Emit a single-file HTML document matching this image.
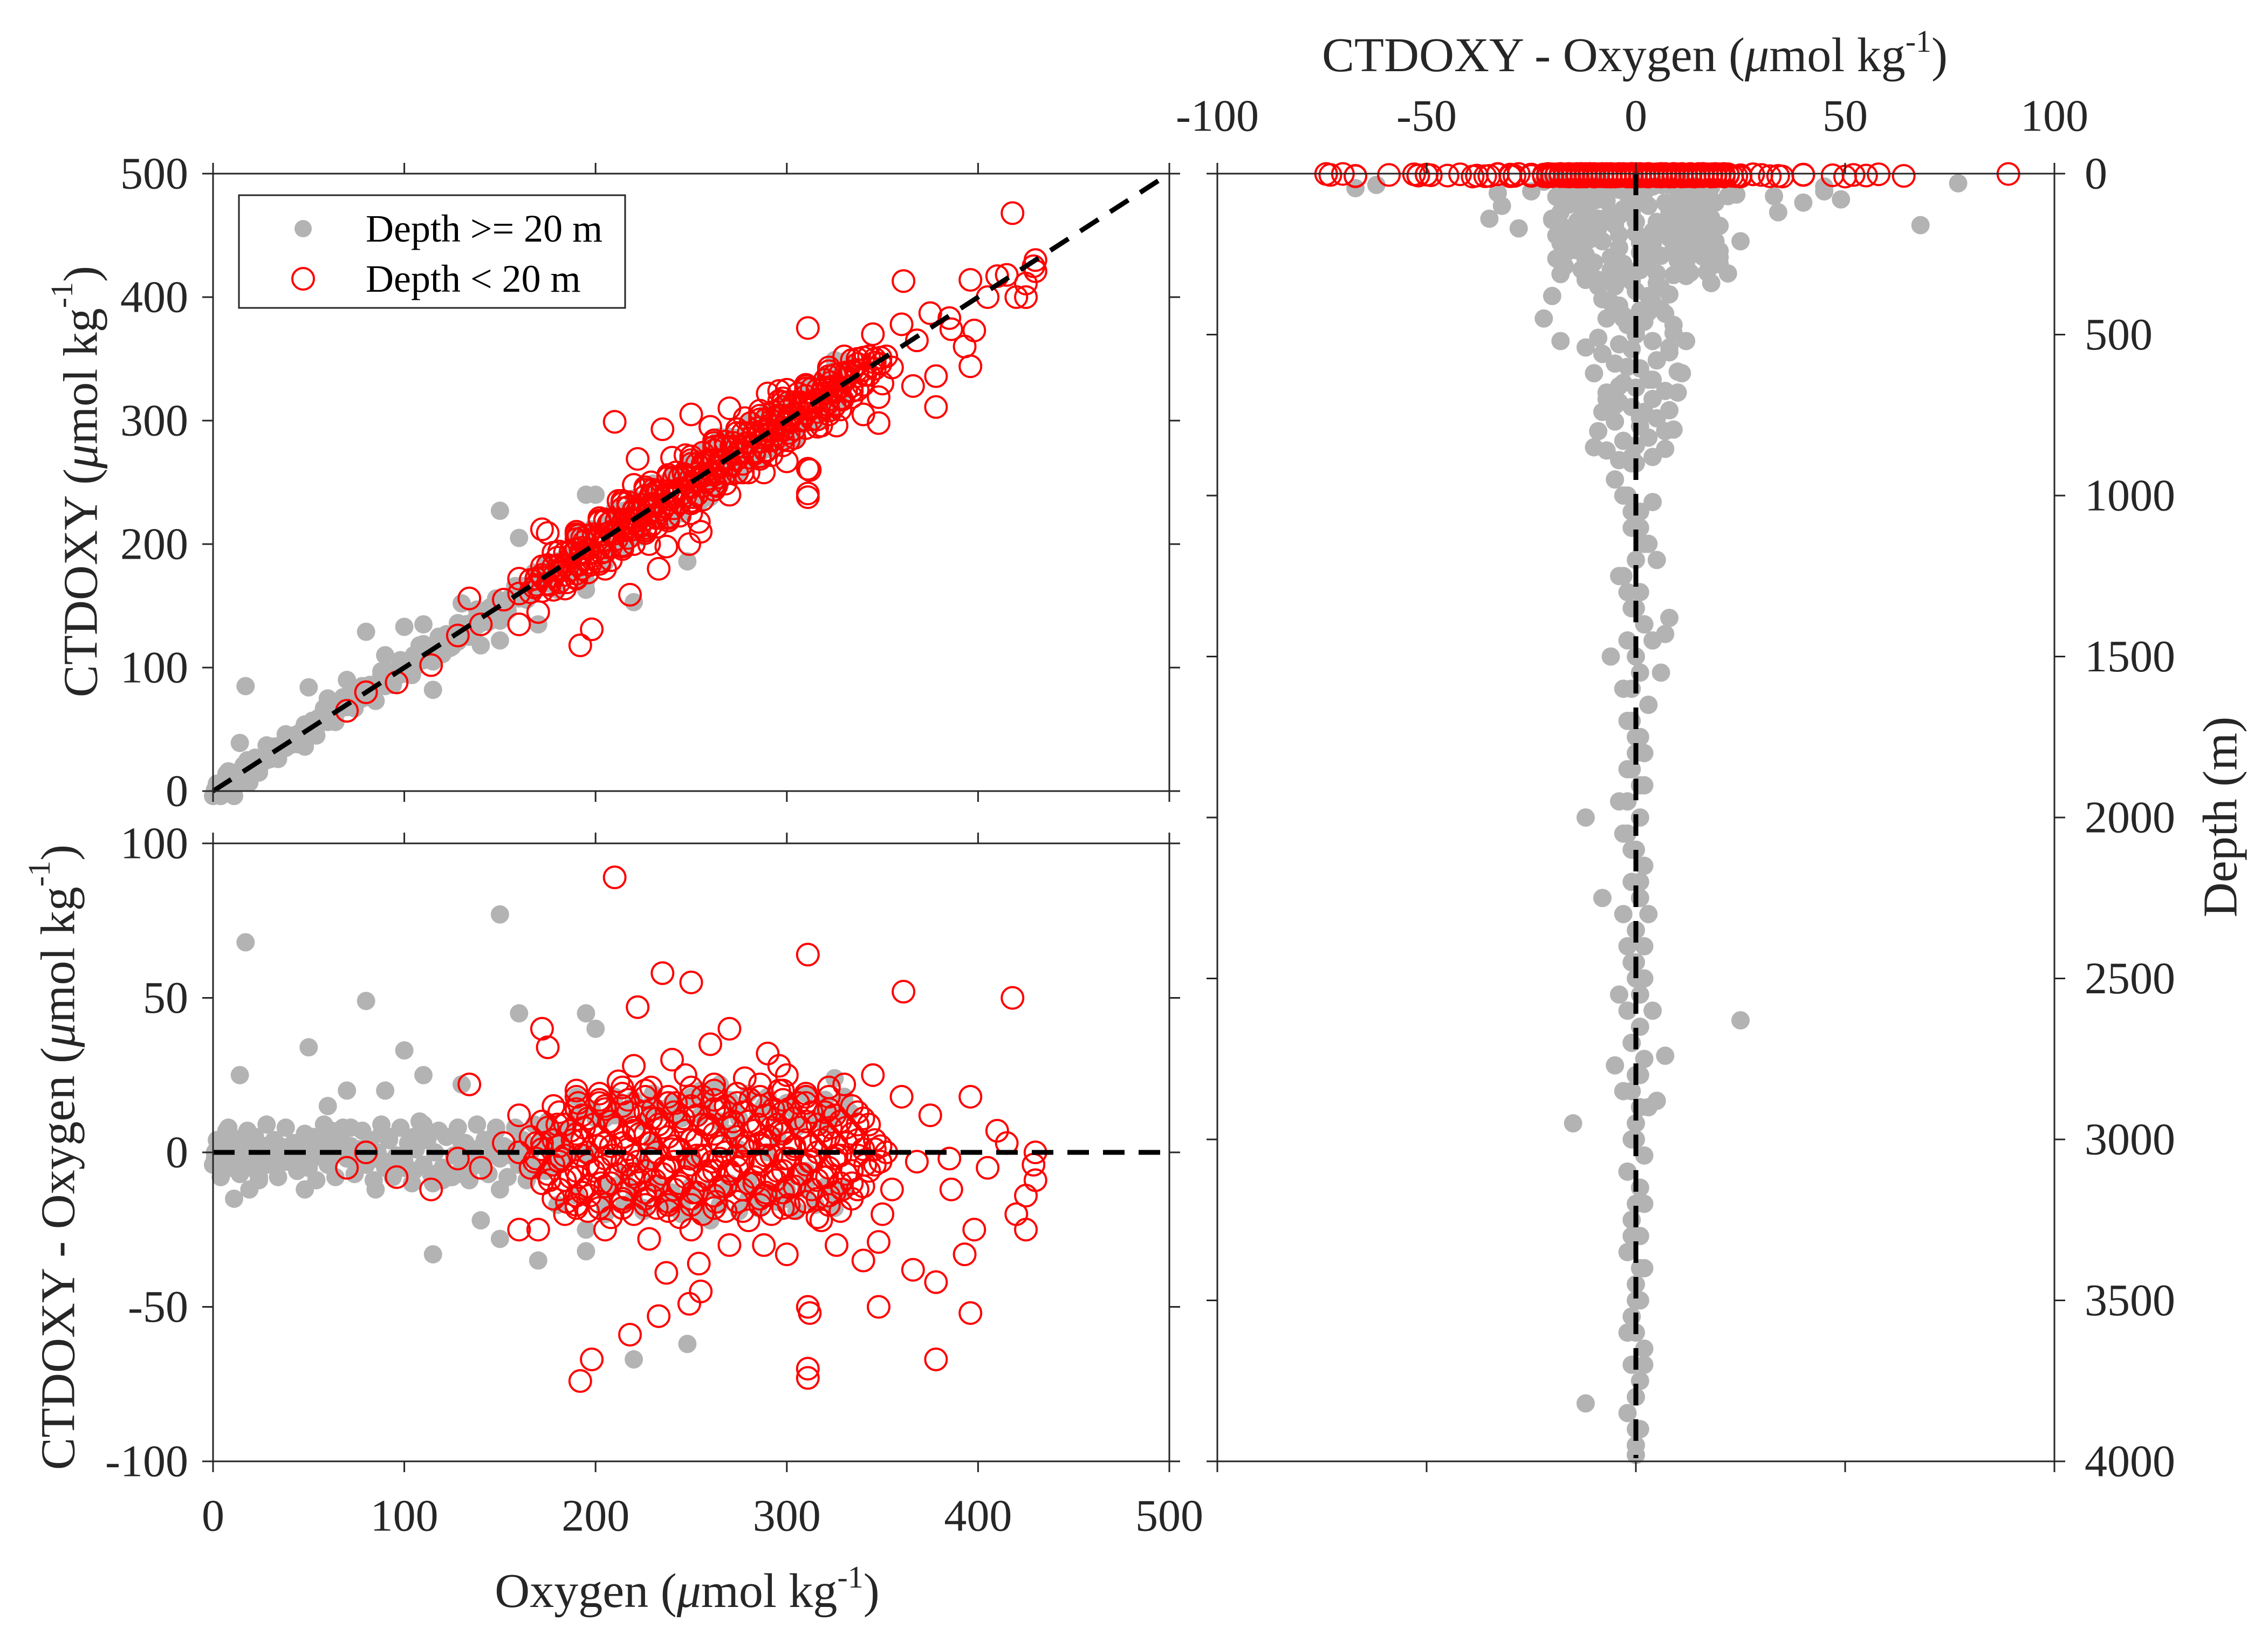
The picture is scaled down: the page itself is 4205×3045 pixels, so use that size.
<!DOCTYPE html>
<html><head><meta charset="utf-8"><style>
html,body{margin:0;padding:0;background:#fff;}
svg{display:block;font-family:"Liberation Serif",serif;}
</style></head><body>
<svg id="fig" width="4205" height="3045" viewBox="0 0 4205 3045" xmlns="http://www.w3.org/2000/svg">
<rect width="4205" height="3045" fill="#fff"/>
<g id="tl"></g>
<g id="bl"></g>
<g id="rp"></g>
<g id="labels">
<text x="150" y="893" font-size="90" text-anchor="middle" dominant-baseline="central" transform="rotate(-90 150 893)" fill="#262626">CTDOXY (<tspan font-style="italic">μ</tspan>mol kg<tspan font-size="58" dy="-36">-1</tspan><tspan dy="36">)</tspan></text>
<text x="108" y="2146" font-size="90" text-anchor="middle" dominant-baseline="central" transform="rotate(-90 108 2146)" fill="#262626">CTDOXY - Oxygen (<tspan font-style="italic">μ</tspan>mol kg<tspan font-size="58" dy="-36">-1</tspan><tspan dy="36">)</tspan></text>
<text x="1274" y="2980" font-size="90" text-anchor="middle" fill="#262626">Oxygen (<tspan font-style="italic">μ</tspan>mol kg<tspan font-size="58" dy="-36">-1</tspan><tspan dy="36">)</tspan></text>
<text x="3031" y="132" font-size="90" text-anchor="middle" fill="#262626">CTDOXY - Oxygen (<tspan font-style="italic">μ</tspan>mol kg<tspan font-size="58" dy="-36">-1</tspan><tspan dy="36">)</tspan></text>
<text x="4117" y="1515" font-size="90" text-anchor="middle" dominant-baseline="central" transform="rotate(-90 4117 1515)" fill="#262626">Depth (m)</text>
</g>
<g id="legend">
<rect x="443" y="362" width="716" height="209" fill="#fff" stroke="#262626" stroke-width="3"/>
<circle cx="562" cy="424" r="16" fill="#b3b3b3"/>
<text x="678" y="424" font-size="72" dominant-baseline="central" fill="#000">Depth &gt;= 20 m</text>
<circle cx="562" cy="517" r="20" fill="none" stroke="#ff0000" stroke-width="4"/>
<text x="678" y="517" font-size="72" dominant-baseline="central" fill="#000">Depth &lt; 20 m</text>
</g>
</svg>
<script>
// ---- data: gray (depth >= 20 m) ----
const grayO = [260,240,300,220,280,310,250,290,230,270,320,210,300,190,265,245,285,215,275,305,235,255,195,325,205,295,225,315,180,330,
150,120,170,140,160,130,180,110,190,125,165,145,175,135,155,185,115,195,105,200,128,168,148,138,158,
100,90,80,70,60,110,95,85,75,65,55,105,88,78,68,58,50,45,40,35,30,92,72,62,48,
28,25,22,20,18,15,12,10,8,6,5,4,3,2,1,42,38,32,26,24,14,11,9,7,16,19,13,17,21,23,
17,150,80,50,100,160,195,200,115,220,248,170,195,150,60,70,90,110,130,205,225,140,85,
4,14,24,34,44,54,64,74,84,94,104,114,124,134,144,154,164,174,
0,10,20,30,40,50,60,70,80,90,100,110,120,130,140,150,160,170,180,
6,16,26,36,46,56,66,76,86,96,106,116,126,136,146,156,166,176,186,196,
2,12,22,32,42,52,62,72,82,92,102,112,122,132,142,152,162,172,182,
8,18,28,38,48,58,68,78,88,98,108,118,128,138,148,158,168,178,
190,205,220,235,250,265,280,295,310,325,
198,213,228,243,258,273,288,303,318,333,
60,55,50,46,42,38,35,32,29,27,25,23,21,19,17,15,13,11,9,7,58,52,48,44,40,36,33,30,28,26,24,22,20,18,16,14,12,10,8,6,5,4,3,2,1,57,53,47,43,39,34,31,29,27,25,23,21,19,17,15,
205,215,225,235,245,255,265,275,285,295,305,315,325,
210,220,230,240,250,260,270,280,290,300,310,320,330,
205,215,225,235,245,255,265,275,285,295,305,315,325,
210,220,230,240,250,260,270,280,290,300,310,320,330];
const grayD = [-22,-18,-15,-12,-9,-6,-3,0,3,6,9,12,15,18,22,-20,-14,-7,1,8,14,20,-25,24,-11,5,-4,11,-17,17,
-12,-9,-6,-3,0,3,6,9,12,-8,-2,4,10,-5,1,7,-10,-1,5,11,-7,2,8,-4,0,
-5,-3,-1,1,3,5,-4,-2,0,2,4,-6,6,-3,3,-1,1,0,-2,2,-4,4,8,7,-12,
-3,-1,1,3,-2,0,2,-4,4,-1,1,-3,3,0,-2,2,-1,1,0,-8,25,-15,-5,7,5,-12,0,-2,2,0,
68,77,49,34,33,45,45,40,-33,-67,-62,-35,-32,-28,15,20,20,25,22,-20,-18,-22,-12,
-8,-7,-9,-8,-6,-9,-8,-7,-9,-8,-10,-7,-8,-9,-7,-8,-9,-6,
-4,-3,-5,-4,-3,-5,-4,-2,-4,-5,-3,-4,-5,-3,-4,-2,-4,-5,-3,
0,1,-1,0,1,-1,0,1,0,-1,1,0,-1,1,0,-1,0,1,-1,0,
4,3,5,4,3,5,4,2,4,5,3,4,5,3,4,2,4,5,3,
8,7,9,8,6,9,8,7,9,8,10,7,8,9,7,8,9,6,
-14,-13,-15,-12,-14,-13,-15,-14,-12,-13,
14,13,15,12,14,13,15,14,12,13,
-2,1,-1,2,0,-3,1,-1,2,-2,0,1,-1,3,-2,0,2,-1,1,-2,1,-2,0,2,-1,1,-3,0,2,-1,0,1,-2,1,-1,2,0,-1,1,0,-1,2,-2,1,0,-1,1,-2,2,0,1,-1,0,2,-1,1,0,-2,1,0,
-18,-17,-19,-16,-18,-20,-17,-19,-18,-16,-19,-17,-18,
-11,-12,-10,-13,-11,-12,-10,-11,-13,-12,-10,-11,-12,
11,12,10,13,11,12,10,11,13,12,10,11,12,
18,17,19,16,18,20,17,19,18,16,19,17,18];
const grayZ = [25,40,60,30,80,120,50,150,200,35,90,180,110,260,70,140,220,45,300,160,100,240,55,65,280,190,130,210,85,170,
320,350,400,450,500,380,420,470,520,560,600,640,680,720,760,800,850,880,580,620,700,740,540,660,900,
950,1000,1050,1100,1150,1200,1250,1300,1350,1400,1450,1500,1550,1600,1650,1700,1750,1800,1850,1900,1950,1020,1380,1430,2000,
2050,2100,2200,2300,2400,2450,2500,2550,2600,2700,2800,2850,2900,3000,3100,3200,3300,3400,3500,2250,2630,2950,2770,2740,2880,3820,3980,3600,3700,3900,
160,30,80,120,70,55,40,90,60,45,35,140,100,170,230,260,280,210,310,380,520,450,540,
30,85,140,210,260,330,390,450,510,560,620,680,740,800,860,45,170,300,
50,110,160,230,280,350,410,470,530,590,650,710,770,830,890,65,190,320,440,
22,75,125,185,245,305,365,425,485,545,605,665,725,785,845,900,95,215,335,455,
40,100,150,220,270,340,400,460,520,580,640,700,760,820,880,60,180,310,430,
35,90,145,200,255,315,375,435,495,555,615,675,735,795,855,115,235,355,
28,58,88,118,148,178,208,238,268,298,
38,68,98,128,158,188,218,248,278,308,
1000,1050,1100,1150,1200,1250,1300,1350,1400,1450,1500,1550,1600,1650,1700,1750,1800,1850,1900,1950,2000,2050,2100,2150,2200,2250,2300,2350,2400,2450,2500,2550,2600,2650,2700,2750,2800,2850,2900,2950,3000,3050,3100,3150,3200,3250,3300,3350,3400,3450,3500,3550,3600,3650,3700,3750,3800,3850,3900,3950,
24,48,72,96,120,144,168,192,216,240,264,288,312,
36,60,84,108,132,156,180,204,228,252,276,300,330,
30,54,78,102,126,150,174,198,222,246,270,294,318,
42,66,90,114,138,162,186,210,234,258,282,306,340];
// ---- data: red (depth < 20 m) ----
const redO = [185,197,214,226,238,251,263,277,289,301,316,329,
176,191,203,219,231,244,258,270,283,294,308,321,334,
168,182,196,209,222,236,249,261,274,287,299,312,326,341,
172,188,201,215,228,240,253,266,279,291,304,318,331,346,
180,194,207,220,233,246,259,272,285,297,310,323,337,
191,205,217,230,242,256,268,281,293,306,320,
212,229,247,262,278,296,
210,311,361,418,235,250,270,222,290,296,172,175,80,96,114,128,140,152,160,134,160,170,192,198,218,237,233,249,254,311,312,311,311,348,348,366,378,378,396,393,398,420,425,430,430,410,396,375,360,350,340,355,368,385,345,330,300,288,270,250,205,190,70,240,260,220,300,318,326,255,228,386,405,415,425,429,
184,196,208,220,232,244,256,268,280,292,304,316,328,
178,190,202,214,226,238,250,262,274,286,298,310,322,334,
172,184,196,208,220,232,244,256,268,280,292,304,316,328,340,
166,178,190,202,214,226,238,250,262,274,286,298,310,322,334,346,
160,172,184,196,208,220,232,244,256,268,280,292,304,316,328,340,352,
166,178,190,202,214,226,238,250,262,274,286,298,310,322,334,346,
172,184,196,208,220,232,244,256,268,280,292,304,316,328,340,
178,190,202,214,226,238,250,262,274,286,298,310,322,334,
190,202,214,226,238,250,262,274,286,298,310,322,
190,202,214,226,238,250,262,274,286,298,310,322,
181,193,205,217,229,241,253,265,277,289,301,313,325,337,
175,187,199,211,223,235,247,259,271,283,295,307,319,331,343,
169,181,193,205,217,229,241,253,265,277,289,301,313,325,337,349,
169,181,193,205,217,229,241,253,265,277,289,301,313,325,337,349,
175,187,199,211,223,235,247,259,271,283,295,307,319,331,343,
181,193,205,217,229,241,253,265,277,289,301,313,325,337,
190,202,214,226,238,250,262,274,286,298,310,322];
const redD = [-16,-14,-18,-15,-17,-13,-16,-19,-14,-17,-15,-12,
-9,-8,-10,-7,-9,-11,-8,-6,-10,-9,-7,-8,-10,
-3,-2,-4,-1,-3,-5,-2,-3,-1,-4,-2,-3,-1,-4,
3,4,2,5,3,1,4,2,3,5,2,4,3,1,
9,8,10,7,9,11,8,10,9,7,10,8,9,
16,15,17,14,16,18,15,17,14,16,13,
23,21,25,22,24,20,
89,64,52,50,58,55,40,47,32,28,40,34,0,-8,-12,-2,-5,3,12,22,-25,-25,-74,-67,-59,-39,-53,-49,-36,-50,-52,-70,-73,-29,-50,-38,-42,-67,-52,-33,-25,-20,-14,-9,0,7,18,12,18,-20,-35,-12,-3,-2,25,22,-33,-30,-30,-25,-25,-18,-5,30,35,28,25,-22,-30,-45,-28,-12,-5,3,-25,-4,
-20,-19,-21,-20,-18,-21,-20,-19,-22,-20,-18,-21,-19,
-15,-14,-16,-15,-13,-16,-15,-14,-16,-15,-13,-16,-14,-15,
-10,-9,-11,-10,-8,-11,-10,-9,-11,-10,-8,-11,-9,-10,-11,
-5,-4,-6,-5,-3,-6,-5,-4,-6,-5,-3,-6,-4,-5,-6,-4,
0,1,-1,0,2,-1,0,1,-1,0,2,-1,1,0,-1,1,0,
5,4,6,5,3,6,5,4,6,5,3,6,4,5,6,4,
10,9,11,10,8,11,10,9,11,10,8,11,9,10,11,
15,14,16,15,13,16,15,14,16,15,13,16,14,15,
20,19,21,20,18,21,20,19,22,20,18,21,
-17,-18,-16,-17,-19,-17,-18,-16,-17,-18,-16,-17,
-12,-13,-11,-12,-14,-12,-13,-11,-12,-13,-11,-12,-13,-12,
-7,-8,-6,-7,-9,-7,-8,-6,-7,-8,-6,-7,-8,-7,-6,
-2,-3,-1,-2,-4,-2,-3,-1,-2,-3,-1,-2,-3,-2,-1,-3,
3,2,4,3,1,3,2,4,3,2,4,3,2,3,4,2,
8,7,9,8,6,8,7,9,8,7,9,8,7,8,9,
13,12,14,13,11,13,12,14,13,12,14,13,12,13,
18,17,19,18,16,18,17,19,18,17,19,18];
const redZ = [3,6,2,8,5,1,7,4,9,2,6,3,5,8,2,4,7,1,6,3,9,5,2,8,4,6,3,1,7,4,9,2,5,8,3,6,1,4,7];
// ---- ticks ----
const oxTicks = [0,100,200,300,400,500];
const ctTicks = [0,100,200,300,400,500];
const diffTicks = [-100,-50,0,50,100];
const depthTicks = [0,500,1000,1500,2000,2500,3000,3500,4000];

const NS = "http://www.w3.org/2000/svg";
function mk(tag, attrs, parent){const e=document.createElementNS(NS,tag);for(const k in attrs)e.setAttribute(k,attrs[k]);parent.appendChild(e);return e;}

const L={x0:395,x1:2168}, TOP={y0:322,y1:1467}, BOT={y0:1564,y1:2710}, R={x0:2257,x1:3809,y0:322,y1:2710};
const xO = v => L.x0 + v/500*(L.x1-L.x0);
const yT = v => TOP.y1 - v/500*(TOP.y1-TOP.y0);
const yB = v => BOT.y0 + (100-v)/200*(BOT.y1-BOT.y0);
const xR = v => R.x0 + (v+100)/200*(R.x1-R.x0);
const yR = v => R.y0 + v/4000*(R.y1-R.y0);
const AX = "#262626", TL = 20;

function frame(g,x0,x1,y0,y1){
  const r = mk('rect',{x:x0,y:y0,width:x1-x0,height:y1-y0,fill:'none',stroke:AX,'stroke-width':3},g);
  
  
}
function xticks(g,ticks,fx,y0,y1,labelY,fs){
  ticks.forEach(t=>{
    const x=fx(t);
    const a=mk('line',{x1:x,x2:x,y1:y0,y2:y0-TL,stroke:AX,'stroke-width':3},g);
    
    
    const b=mk('line',{x1:x,x2:x,y1:y1,y2:y1+TL,stroke:AX,'stroke-width':3},g);
    
    
    if(labelY!==null){
      const tx=mk('text',{x:x,y:labelY,'font-size':fs,'text-anchor':'middle','dominant-baseline':'central',fill:AX},g);
      tx.textContent=t;
      
      
    }
  });
}
function yticks(g,ticks,fy,x0,x1,side,fs){
  ticks.forEach(t=>{
    const y=fy(t);
    const a=mk('line',{x1:x0,x2:x0-TL,y1:y,y2:y,stroke:AX,'stroke-width':3},g);
    
    
    const b=mk('line',{x1:x1,x2:x1+TL,y1:y,y2:y,stroke:AX,'stroke-width':3},g);
    
    
    let tx;
    if(side==='left') tx=mk('text',{x:x0-46,y:y,'font-size':fs,'text-anchor':'end','dominant-baseline':'central',fill:AX},g);
    else tx=mk('text',{x:x1+56,y:y,'font-size':fs,'text-anchor':'start','dominant-baseline':'central',fill:AX},g);
    tx.textContent=t;
    
    
  });
}
function grayPts(g,fx,fy,xs,ys){
  const n=Math.min(xs.length,ys.length);
  for(let i=0;i<n;i++){
    const c=mk('circle',{cx:fx(xs[i]),cy:fy(ys[i]),r:17,fill:'#b3b3b3'},g);
    
    
  }
}
function redPts(g,fx,fy,xs,ys){
  for(let i=0;i<xs.length;i++){
    const c=mk('circle',{cx:fx(xs[i]),cy:fy(ys[i % ys.length]),r:20,fill:'none',stroke:'#ff0000','stroke-width':4},g);
    
    
  }
}
function dash(g,x1,y1,x2,y2,name){
  const l=mk('line',{x1:x1,y1:y1,x2:x2,y2:y2,stroke:'#000','stroke-width':9,'stroke-dasharray':'40 26'},g);
  
  
}

// top-left
const tl=document.getElementById('tl');
const tlCT = grayO.map((o,i)=>o+grayD[i]);
const tlCTr = redO.map((o,i)=>o+redD[i]);
grayPts(tl,xO,yT,grayO,tlCT);
redPts(tl,xO,yT,redO,tlCTr);
dash(tl,xO(0),yT(0),xO(500),yT(500),'one-to-one-line');
frame(tl,L.x0,L.x1,TOP.y0,TOP.y1);
xticks(tl,oxTicks,xO,TOP.y0,TOP.y1,null,84);
yticks(tl,ctTicks,yT,L.x0,L.x1,'left',84);
document.getElementById('fig').appendChild(document.getElementById('legend'));

// bottom-left
const bl=document.getElementById('bl');
grayPts(bl,xO,yB,grayO,grayD);
redPts(bl,xO,yB,redO,redD);
dash(bl,xO(0),yB(0),xO(500),yB(0),'zero-line');
frame(bl,L.x0,L.x1,BOT.y0,BOT.y1);
xticks(bl,oxTicks,xO,BOT.y0,BOT.y1,2811,84);
yticks(bl,diffTicks,yB,L.x0,L.x1,'left',84);

// right
const rp=document.getElementById('rp');
grayPts(rp,xR,yR,grayD,grayZ);
redPts(rp,xR,yR,redD,redZ);
dash(rp,xR(0),yR(0),xR(0),yR(3990),'zero-line-depth');
frame(rp,R.x0,R.x1,R.y0,R.y1);
xticks(rp,diffTicks,xR,R.y0,R.y1,null,84);
diffTicks.forEach(t=>{
  const tx=mk('text',{x:xR(t),y:215,'font-size':84,'text-anchor':'middle','dominant-baseline':'central',fill:AX},rp);
  tx.textContent=t;
  
  
});
yticks(rp,depthTicks,yR,R.x0,R.x1,'right',84);
</script>
</body></html>
